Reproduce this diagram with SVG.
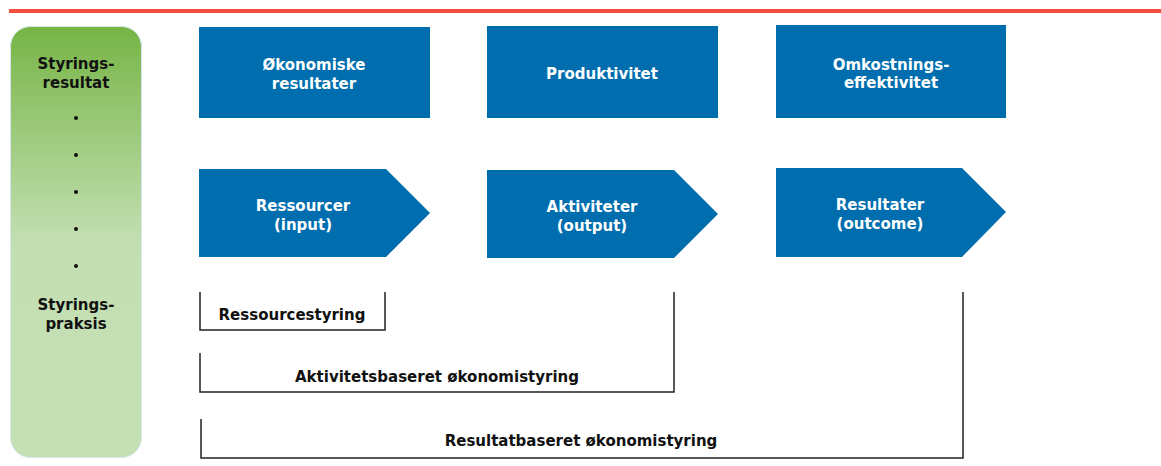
<svg xmlns="http://www.w3.org/2000/svg" width="1161" height="466" viewBox="0 0 1161 466">
<style>
.t{font-family:"DejaVu Sans","Liberation Sans",sans-serif;font-weight:bold;font-size:15px;text-anchor:middle}
.w{fill:#ffffff}
.k{fill:#111111}
.box{fill:#006eae}
.br{fill:none;stroke:#222222;stroke-width:1.5}
</style>
<defs>
<linearGradient id="g" x1="0" y1="0" x2="0" y2="1">
<stop offset="0" stop-color="#77b546"/>
<stop offset="0.5" stop-color="#c3dfb2"/>
<stop offset="1" stop-color="#c5e0b4"/>
</linearGradient>
</defs>
<rect x="9" y="9" width="1152" height="4" fill="#f44e3f"/>
<g id="side">
<rect x="10.5" y="26.5" width="131" height="431" rx="20" fill="url(#g)" stroke="#d6e6ee" stroke-width="1"/>
<text class="t k" x="76" y="69">Styrings-</text>
<text class="t k" x="76" y="88">resultat</text>
<g fill="#111">
<circle cx="76" cy="118" r="2"/>
<circle cx="76" cy="155" r="2"/>
<circle cx="76" cy="192" r="2"/>
<circle cx="76" cy="229" r="2"/>
<circle cx="76" cy="266" r="2"/>
</g>
<text class="t k" x="76" y="310">Styrings-</text>
<text class="t k" x="76" y="329">praksis</text>
</g>
<g id="okonomiske">
<rect class="box" x="199" y="27" width="231" height="91"/>
<text class="t w" x="314" y="70">Økonomiske</text>
<text class="t w" x="314" y="89">resultater</text>
</g>
<g id="produktivitet">
<rect class="box" x="487" y="26" width="231" height="92"/>
<text class="t w" x="602" y="79">Produktivitet</text>
</g>
<g id="omkostning">
<rect class="box" x="776" y="25" width="230" height="93"/>
<text class="t w" x="891" y="70">Omkostnings-</text>
<text class="t w" x="891" y="88">effektivitet</text>
</g>
<g id="ressourcer">
<polygon class="box" points="199,169 386,169 430,213 386,257 199,257"/>
<text class="t w" x="303" y="211">Ressourcer</text>
<text class="t w" x="303" y="230">(input)</text>
</g>
<g id="aktiviteter">
<polygon class="box" points="487,170 674,170 718,214 674,258 487,258"/>
<text class="t w" x="592" y="212">Aktiviteter</text>
<text class="t w" x="592" y="231">(output)</text>
</g>
<g id="resultater">
<polygon class="box" points="776,168 962,168 1006,212 962,257 776,257"/>
<text class="t w" x="880" y="210">Resultater</text>
<text class="t w" x="880" y="229">(outcome)</text>
</g>
<g id="connectors">
<polyline class="br" points="200,292 200,330 385,330 385,292"/>
<polyline class="br" points="200,353 200,392 674,392 674,292"/>
<polyline class="br" points="201,419 201,458 963,458 963,292"/>
</g>
<g id="labels">
<text class="t k" x="292" y="320">Ressourcestyring</text>
<text class="t k" x="437" y="382">Aktivitetsbaseret økonomistyring</text>
<text class="t k" x="581" y="446">Resultatbaseret økonomistyring</text>
</g>
</svg>
